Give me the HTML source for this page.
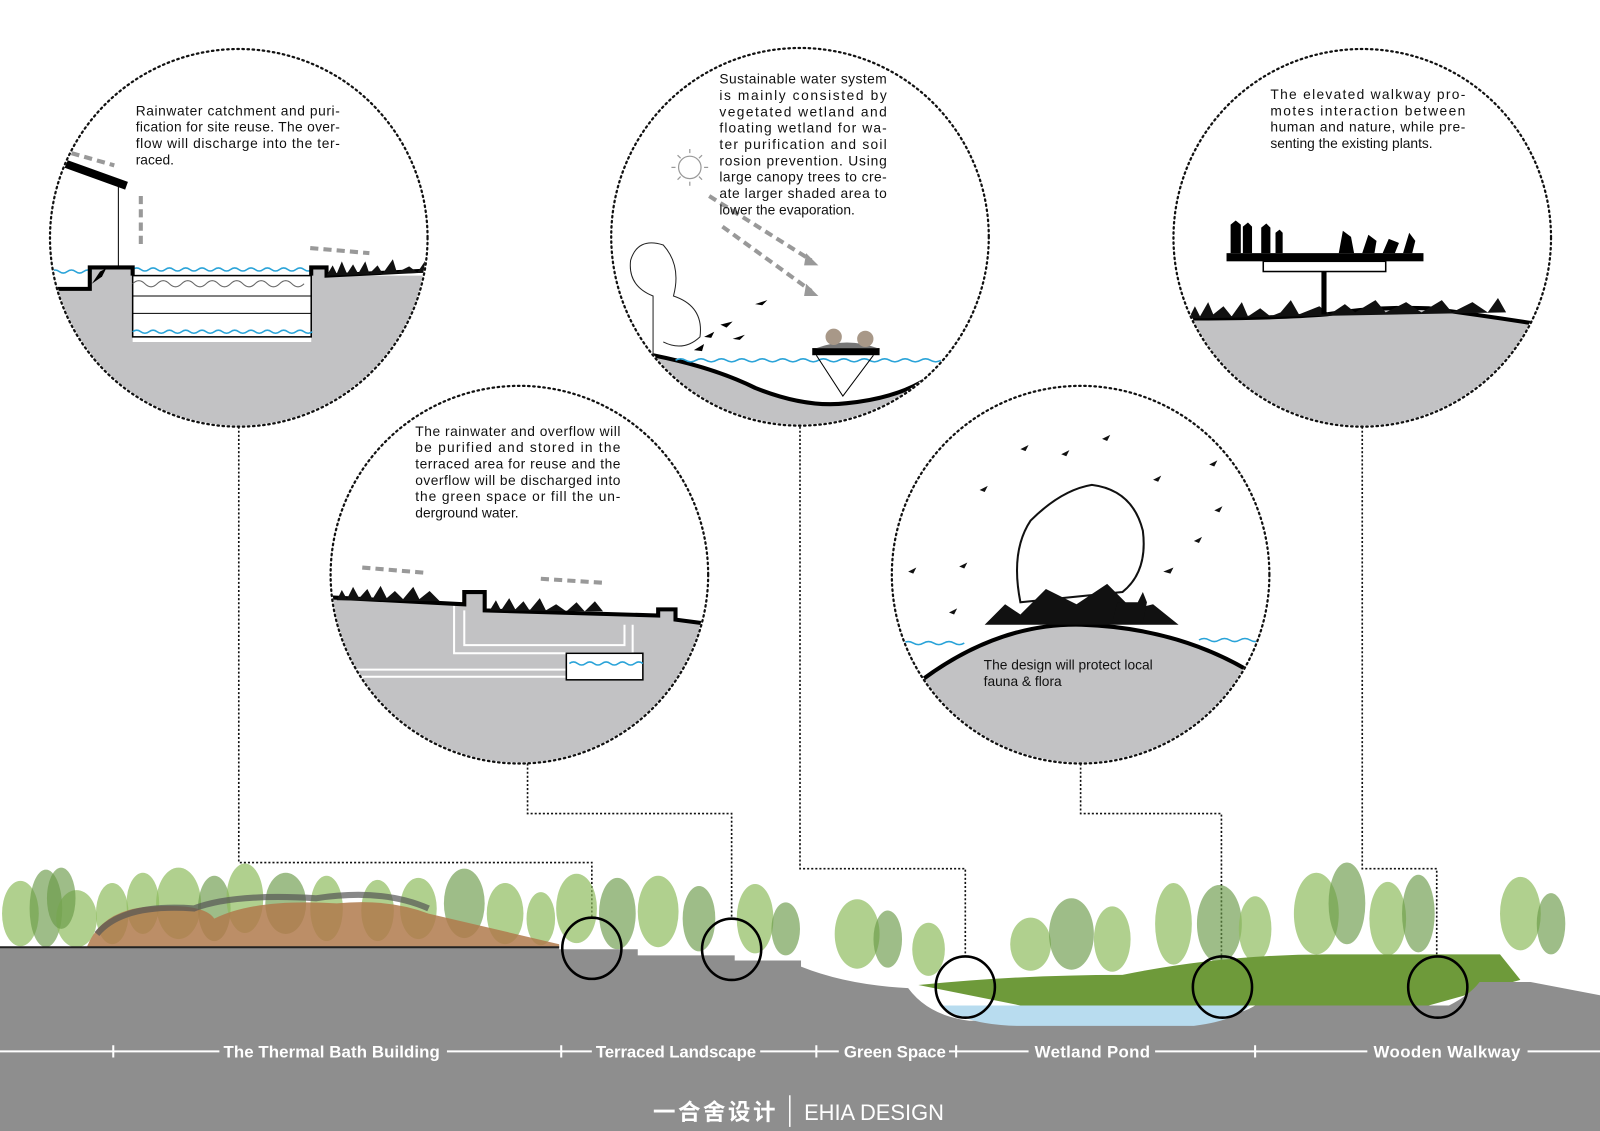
<!DOCTYPE html>
<html><head><meta charset="utf-8"><style>
html,body{margin:0;padding:0;background:#fff;width:1600px;height:1131px;overflow:hidden}
svg{display:block}
.t{font-family:"Liberation Sans",sans-serif;font-size:13.5px;fill:#111}
.lab{font-family:"Liberation Sans",sans-serif;font-size:16.5px;font-weight:bold;fill:#fff}
.circ{fill:none;stroke:#111;stroke-width:2.2;stroke-dasharray:1.5 3.5;stroke-linecap:round}
.dot{fill:none;stroke:#111;stroke-width:1.6;stroke-dasharray:2 2}
.g{fill:#c2c2c4}
.w{fill:none;stroke:#2aa3d8;stroke-width:1.5}
.arr{stroke:#999;stroke-width:4;stroke-dasharray:8 5;fill:none}
.tr{fill:#8fbc5e;opacity:.7}
.tr2{fill:#6a9a48;opacity:.65}
</style></head><body>
<svg width="1600" height="1131" viewBox="0 0 1568 1108" preserveAspectRatio="none" xmlns="http://www.w3.org/2000/svg">
<defs>
<clipPath id="c1"><circle cx="234" cy="233" r="184"/></clipPath>
<clipPath id="c2"><circle cx="509" cy="563" r="184"/></clipPath>
<clipPath id="c3"><circle cx="784" cy="232" r="184"/></clipPath>
<clipPath id="c4"><circle cx="1059" cy="563" r="184"/></clipPath>
<clipPath id="c5"><circle cx="1335" cy="233" r="184"/></clipPath>
</defs>

<!-- connectors -->
<polyline class="dot" points="234,418 234,845 580,845 580,900"/>
<polyline class="dot" points="517,748 517,797 717,797 717,900"/>
<polyline class="dot" points="784,418 784,851 946,851 946,940"/>
<polyline class="dot" points="1059,748 1059,797 1197,797 1197,940"/>
<polyline class="dot" points="1335,418 1335,851 1408,851 1408,940"/>

<!-- trees -->
<g>
<ellipse class="tr" cx="20" cy="895" rx="18" ry="32"/><ellipse class="tr2" cx="45" cy="890" rx="16" ry="38"/>
<ellipse class="tr" cx="75" cy="900" rx="20" ry="28"/><ellipse class="tr2" cx="60" cy="880" rx="14" ry="30"/>
<ellipse class="tr" cx="110" cy="895" rx="16" ry="30"/><ellipse class="tr" cx="140" cy="885" rx="16" ry="30"/>
<ellipse class="tr" cx="175" cy="885" rx="22" ry="35"/><ellipse class="tr2" cx="210" cy="890" rx="16" ry="32"/>
<ellipse class="tr" cx="240" cy="880" rx="18" ry="34"/><ellipse class="tr2" cx="280" cy="885" rx="20" ry="30"/>
<ellipse class="tr" cx="320" cy="890" rx="16" ry="32"/><ellipse class="tr" cx="370" cy="892" rx="16" ry="30"/><ellipse class="tr" cx="410" cy="890" rx="18" ry="30"/>
<ellipse class="tr2" cx="455" cy="885" rx="20" ry="34"/><ellipse class="tr" cx="495" cy="895" rx="18" ry="30"/>
<ellipse class="tr" cx="530" cy="900" rx="14" ry="26"/>
<ellipse class="tr" cx="565" cy="890" rx="20" ry="34"/><ellipse class="tr2" cx="605" cy="895" rx="18" ry="35"/>
<ellipse class="tr" cx="645" cy="893" rx="20" ry="35"/><ellipse class="tr2" cx="685" cy="900" rx="16" ry="32"/>
<ellipse class="tr" cx="740" cy="900" rx="18" ry="34"/><ellipse class="tr2" cx="770" cy="910" rx="14" ry="26"/>
<ellipse class="tr" cx="840" cy="915" rx="22" ry="34"/><ellipse class="tr2" cx="870" cy="920" rx="14" ry="28"/>
<ellipse class="tr" cx="910" cy="930" rx="16" ry="26"/><ellipse class="tr" cx="1010" cy="925" rx="20" ry="26"/>
<ellipse class="tr2" cx="1050" cy="915" rx="22" ry="35"/><ellipse class="tr" cx="1090" cy="920" rx="18" ry="32"/>
<ellipse class="tr" cx="1150" cy="905" rx="18" ry="40"/><ellipse class="tr2" cx="1195" cy="905" rx="22" ry="38"/>
<ellipse class="tr" cx="1230" cy="910" rx="16" ry="32"/><ellipse class="tr" cx="1290" cy="895" rx="22" ry="40"/>
<ellipse class="tr2" cx="1320" cy="885" rx="18" ry="40"/><ellipse class="tr" cx="1360" cy="900" rx="18" ry="36"/>
<ellipse class="tr2" cx="1390" cy="895" rx="16" ry="38"/><ellipse class="tr" cx="1490" cy="895" rx="20" ry="36"/>
<ellipse class="tr2" cx="1520" cy="905" rx="14" ry="30"/>
</g>
<!-- building -->
<path d="M85,928 Q100,890 150,888 Q200,885 210,900 Q250,880 330,885 Q380,880 420,895 L548,925 L548,928 Z" fill="#b07a4c" opacity=".85"/>
<path d="M95,915 Q120,885 190,890 Q230,875 310,880 Q375,870 420,890" fill="none" stroke="#555" stroke-width="6" opacity=".7"/>
<!-- green right -->
<path d="M900,965 Q1000,955 1100,955 Q1200,935 1300,935 L1470,935 L1490,960 L1400,985 L1000,985 Z" fill="#6e9a3a"/>
<!-- ground -->
<path d="M0,928 L548,928 L548,930 L625,930 L625,936 L720,936 L720,941 L785,941 L785,947 Q830,965 890,968 Q910,995 950,1000 L1170,1000 Q1215,995 1230,985 L1420,985 Q1440,975 1450,962 L1500,962 L1568,975 L1568,1108 L0,1108 Z" fill="#8e8e8e"/>
<path d="M920,985 Q950,1005 1000,1005 L1170,1005 Q1210,1000 1225,985 Z" fill="#b8dcef"/>
<line x1="0" y1="928" x2="548" y2="928" stroke="#222" stroke-width="2"/>
<!-- small circles -->
<g fill="none" stroke="#000" stroke-width="2.5">
<ellipse cx="580" cy="929" rx="29" ry="30"/><ellipse cx="717" cy="930" rx="29" ry="30"/>
<ellipse cx="946" cy="967" rx="29" ry="30"/><ellipse cx="1198" cy="967" rx="29" ry="30"/><ellipse cx="1409" cy="967" rx="29" ry="30"/>
</g>
<!-- labels -->
<g stroke="#fff" stroke-width="2">
<line x1="0" y1="1030" x2="215" y2="1030"/><line x1="438" y1="1030" x2="580" y2="1030"/>
<line x1="745" y1="1030" x2="822" y2="1030"/><line x1="930" y1="1030" x2="1008" y2="1030"/>
<line x1="1132" y1="1030" x2="1340" y2="1030"/><line x1="1497" y1="1030" x2="1568" y2="1030"/>
<line x1="111" y1="1024" x2="111" y2="1036"/><line x1="550" y1="1024" x2="550" y2="1036"/>
<line x1="800" y1="1024" x2="800" y2="1036"/><line x1="937" y1="1024" x2="937" y2="1036"/><line x1="1230" y1="1024" x2="1230" y2="1036"/>
<line x1="774" y1="1073" x2="774" y2="1104" stroke-width="1.5"/>
</g>
<text class="lab" x="219" y="1036" textLength="212">The Thermal Bath Building</text>
<text class="lab" x="584" y="1036" textLength="157">Terraced Landscape</text>
<text class="lab" x="827" y="1036" textLength="100">Green Space</text>
<text class="lab" x="1014" y="1036" textLength="113">Wetland Pond</text>
<text class="lab" x="1346" y="1036" textLength="144">Wooden Walkway</text>
<text x="640" y="1097" textLength="120" style="font-family:'Liberation Sans','Noto Sans CJK SC',sans-serif;font-size:22px;font-weight:bold;fill:#fff">一合舍设计</text>
<text x="788" y="1097" textLength="137" lengthAdjust="spacingAndGlyphs" style="font-family:'Liberation Sans',sans-serif;font-size:22px;fill:#fff">EHIA DESIGN</text>

<!-- circle 1 -->
<g clip-path="url(#c1)">
<path class="g" d="M40,283 L88,283 L88,262 L130,262 L130,335 L305,335 L305,262 L320,262 L320,270 L420,270 L420,450 L40,450 Z"/>
<rect x="130" y="270" width="175" height="60" fill="#fff" stroke="#000" stroke-width="1.5"/>
<line x1="130" y1="290" x2="305" y2="290" stroke="#000"/><line x1="130" y1="307" x2="305" y2="307" stroke="#000"/>
<path d="M130,278 q6,-6 12,0 t12,0 t12,0 t12,0 t12,0 t12,0 t12,0 t12,0 t12,0 t12,0 t12,0 t12,0 t12,0 t12,0" fill="none" stroke="#666" stroke-width="1"/>
<path class="w" d="M130,264 q4,-3 8,0 t8,0 t8,0 t8,0 t8,0 t8,0 t8,0 t8,0 t8,0 t8,0 t8,0 t8,0 t8,0 t8,0 t8,0 t8,0 t8,0 t8,0 t8,0 t8,0 t8,0 t8,0"/>
<path class="w" d="M130,325 q4,-3 8,0 t8,0 t8,0 t8,0 t8,0 t8,0 t8,0 t8,0 t8,0 t8,0 t8,0 t8,0 t8,0 t8,0 t8,0 t8,0 t8,0 t8,0 t8,0 t8,0 t8,0 t8,0"/>
<path class="w" d="M50,266 q4,-3 8,0 t8,0 t8,0 t8,0 t8,0"/>
<path d="M50,283 L88,283 L88,262 L130,262 L130,270 M305,270 L305,262 L320,262 L320,270 L420,265" fill="none" stroke="#000" stroke-width="4"/>
<path d="M320,270 l6,-10 l4,8 l5,-12 l5,12 l6,-9 l5,9 l7,-12 l4,12 l8,-8 l5,8 l10,-14 l4,13 l12,-6 l8,6 l10,-15 l5,15 Z" fill="#111"/>
<line x1="63" y1="160" x2="124" y2="182" stroke="#000" stroke-width="8"/>
<line x1="116" y1="182" x2="116" y2="262" stroke="#000" stroke-width="1"/>
<path d="M90,278 l8,-12 l6,-3 l-4,8 z" fill="#000"/>
<path class="arr" d="M70,150 L112,162"/><path class="arr" d="M138,192 L138,240"/><path class="arr" d="M304,243 L362,248"/>
</g>
<circle class="circ" cx="234" cy="233" r="185"/>
<text class="t"><tspan x="133" y="113" textLength="200">Rainwater catchment and puri-</tspan><tspan x="133" y="129" textLength="200">fication for site reuse. The over-</tspan><tspan x="133" y="145" textLength="200">flow will discharge into the ter-</tspan><tspan x="133" y="161">raced.</tspan></text>

<!-- circle 2 -->
<g clip-path="url(#c2)">
<path class="g" d="M320,585 L455,592 L455,580 L475,580 L475,598 L645,603 L645,597 L662,597 L662,607 L700,612 L700,760 L320,760 Z"/>
<path d="M445,592 L445,640 L620,640 L620,612 M455,598 L455,632 L612,632 L612,612" fill="none" stroke="#fff" stroke-width="2"/>
<path d="M320,656 L558,656 M320,663 L558,663" stroke="#fff" stroke-width="2"/>
<rect x="555" y="640" width="75" height="26" fill="#fff" stroke="#000" stroke-width="1.5"/>
<path class="w" d="M558,650 q4,-3 8,0 t8,0 t8,0 t8,0 t8,0 t8,0 t8,0 t8,0 t8,0"/>
<path d="M320,585 L455,592 L455,580 L475,580 L475,598 L645,603 L645,597 L662,597 L662,607 L700,612" fill="none" stroke="#000" stroke-width="4"/>
<path d="M330,588 l5,-10 l5,9 l6,-12 l6,11 l8,-9 l5,10 l8,-13 l6,12 l8,-7 l8,8 l10,-12 l6,12 l10,-8 l10,10 Z M480,598 l6,-10 l5,10 l8,-12 l6,11 l8,-8 l6,9 l10,-12 l6,12 l10,-6 l10,7 l10,-9 l8,9 l10,-10 l8,10 Z" fill="#111"/>
<path class="arr" d="M355,556 L415,561"/><path class="arr" d="M530,567 L592,571"/>
</g>
<circle class="circ" cx="509" cy="563" r="185"/>
<text class="t"><tspan x="407" y="427" textLength="201">The rainwater and overflow will</tspan><tspan x="407" y="443" textLength="201">be purified and stored in the</tspan><tspan x="407" y="459" textLength="201">terraced area for reuse and the</tspan><tspan x="407" y="475" textLength="201">overflow will be discharged into</tspan><tspan x="407" y="491" textLength="201">the green space or fill the un-</tspan><tspan x="407" y="507">derground water.</tspan></text>

<!-- circle 3 -->
<g clip-path="url(#c3)">
<path class="g" d="M640,348 Q700,360 740,380 Q790,400 830,395 Q880,390 910,370 L910,430 L640,430 Z"/>
<path d="M640,348 Q700,360 740,380 Q790,400 830,395 Q880,390 910,370" fill="none" stroke="#000" stroke-width="4"/>
<path class="w" d="M662,353 q5,-3 10,0 t10,0 t10,0 t10,0 t10,0 t10,0 t10,0 t10,0 t10,0 t10,0 t10,0 t10,0 t10,0 t10,0 t10,0 t10,0 t10,0 t10,0 t10,0 t10,0 t10,0 t10,0 t10,0 t10,0 t10,0 t10,0"/>
<rect x="796" y="341" width="66" height="7" fill="#000"/>
<path d="M800,341 Q830,330 860,341 Z" fill="#777"/>
<path d="M800,348 L826,388 L856,348" fill="none" stroke="#000" stroke-width="1"/>
<circle cx="817" cy="330" r="8" fill="#a89888"/><circle cx="848" cy="332" r="8" fill="#a89888"/>
<path class="arr" d="M695,192 L795,255"/><path class="arr" d="M708,222 L795,285"/>
<path d="M790,248 l12,12 l-14,0z M790,278 l12,12 l-14,0z" fill="#999"/>
<g fill="none" stroke="#222" stroke-width="1"><path d="M640,350 L640,290 Q615,280 618,255 Q625,232 650,240 Q668,260 660,290 Q690,300 686,330 Q670,345 650,335"/></g>
<path d="M690,330 l10,-5 l-3,6 z M706,318 l12,-3 l-6,6 z M718,332 l12,-4 l-5,5 z M740,298 l12,-4 l-5,5 z M680,343 l10,-6 l-2,7 z" fill="#000"/>
</g>
<circle class="circ" cx="784" cy="232" r="185"/>
<circle cx="676" cy="164" r="11" fill="none" stroke="#999" stroke-width="1.2"/>
<g stroke="#999" stroke-width="1.2"><line x1="676" y1="146" x2="676" y2="150"/><line x1="676" y1="178" x2="676" y2="182"/><line x1="658" y1="164" x2="662" y2="164"/><line x1="690" y1="164" x2="694" y2="164"/><line x1="664" y1="152" x2="667" y2="155"/><line x1="685" y1="173" x2="688" y2="176"/><line x1="664" y1="176" x2="667" y2="173"/><line x1="685" y1="155" x2="688" y2="152"/></g>
<text class="t"><tspan x="705" y="82" textLength="164">Sustainable water system</tspan><tspan x="705" y="98" textLength="164">is mainly consisted by</tspan><tspan x="705" y="114" textLength="164">vegetated wetland and</tspan><tspan x="705" y="130" textLength="164">floating wetland for wa-</tspan><tspan x="705" y="146" textLength="164">ter purification and soil</tspan><tspan x="705" y="162" textLength="164">rosion prevention.  Using</tspan><tspan x="705" y="178" textLength="164">large canopy trees to cre-</tspan><tspan x="705" y="194" textLength="164">ate larger shaded area to</tspan><tspan x="705" y="210">lower the evaporation.</tspan></text>

<!-- circle 4 -->
<g clip-path="url(#c4)">
<path class="g" d="M905,665 Q980,610 1060,612 Q1150,615 1220,655 L1250,760 L870,760 Z"/>
<path d="M905,665 Q980,610 1060,612 Q1150,615 1220,655" fill="none" stroke="#000" stroke-width="4"/>
<path class="w" d="M885,630 q5,-3 10,0 t10,0 t10,0 t10,0 t10,0 t10,0"/><path class="w" d="M1175,627 q5,-3 10,0 t10,0 t10,0 t10,0 t10,0 t10,0"/>
<path d="M1000,590 Q990,540 1010,510 Q1040,480 1070,475 Q1110,480 1120,520 Q1125,560 1100,580 Z" fill="none" stroke="#111" stroke-width="2"/>
<path d="M965,612 l20,-20 l15,10 l25,-25 l30,15 l30,-20 l25,25 l20,-5 l25,20 Z" fill="#111"/>
<path d="M1090,610 l5,-20 l20,0 l5,-10 l4,10 l-4,20 z" fill="#111"/>
<path d="M940,555 l8,-4 l-3,6z M1000,440 l8,-4 l-3,6z M1040,445 l8,-4 l-3,6z M1080,430 l8,-4 l-3,6z M1130,470 l8,-4 l-3,6z M1170,530 l8,-4 l-3,6z M1190,500 l8,-4 l-3,6z M960,480 l8,-4 l-3,6z M890,560 l8,-4 l-3,6z M1140,560 l10,-4 l-3,6z M1185,455 l8,-4 l-3,6z M930,600 l8,-4 l-3,6z" fill="#111"/>
</g>
<circle class="circ" cx="1059" cy="563" r="185"/>
<text class="t"><tspan x="964" y="656">The design will protect local</tspan><tspan x="964" y="672">fauna &amp; flora</tspan></text>

<!-- circle 5 -->
<g clip-path="url(#c5)">
<path class="g" d="M1160,312 Q1250,312 1300,308 Q1350,300 1400,302 Q1460,310 1510,318 L1520,430 L1150,430 Z"/>
<path d="M1160,312 Q1250,312 1300,308 Q1350,300 1400,302 Q1460,310 1510,318" fill="none" stroke="#000" stroke-width="4"/>
<path d="M1165,312 l6,-12 l5,10 l8,-14 l5,12 l10,-8 l8,10 l10,-14 l6,14 l12,-8 l10,8 l10,-4 l10,-12 l8,14 l20,-8 l10,8 l15,-10 l10,8 l20,-12 l10,12 l20,-10 l15,10 l20,-12 l10,12 l20,-10 l15,10 l10,-14 l8,14 Z" fill="#111"/>
<rect x="1202" y="248" width="193" height="8" fill="#000"/>
<rect x="1238" y="256" width="120" height="10" fill="none" stroke="#000" stroke-width="1.5"/>
<rect x="1295" y="266" width="5" height="42" fill="#000"/>
<path d="M1206,248 l0,-28 l5,-4 l5,4 l0,28z M1218,248 l0,-26 l5,-4 l4,4 l0,26z M1236,248 l0,-25 l5,-4 l4,4 l0,25z M1250,248 l0,-20 l4,-3 l3,3 l0,20z M1312,248 l4,-22 l8,6 l3,16z M1335,248 l6,-18 l8,6 l-2,12z M1355,248 l6,-14 l10,4 l-4,10z M1375,248 l6,-20 l6,8 l-3,12z" fill="#000"/>
</g>
<circle class="circ" cx="1335" cy="233" r="185"/>
<text class="t"><tspan x="1245" y="97" textLength="191">The elevated walkway pro-</tspan><tspan x="1245" y="113" textLength="191">motes interaction between</tspan><tspan x="1245" y="129" textLength="191">human and nature, while pre-</tspan><tspan x="1245" y="145">senting the existing plants.</tspan></text>
</svg>
</body></html>
